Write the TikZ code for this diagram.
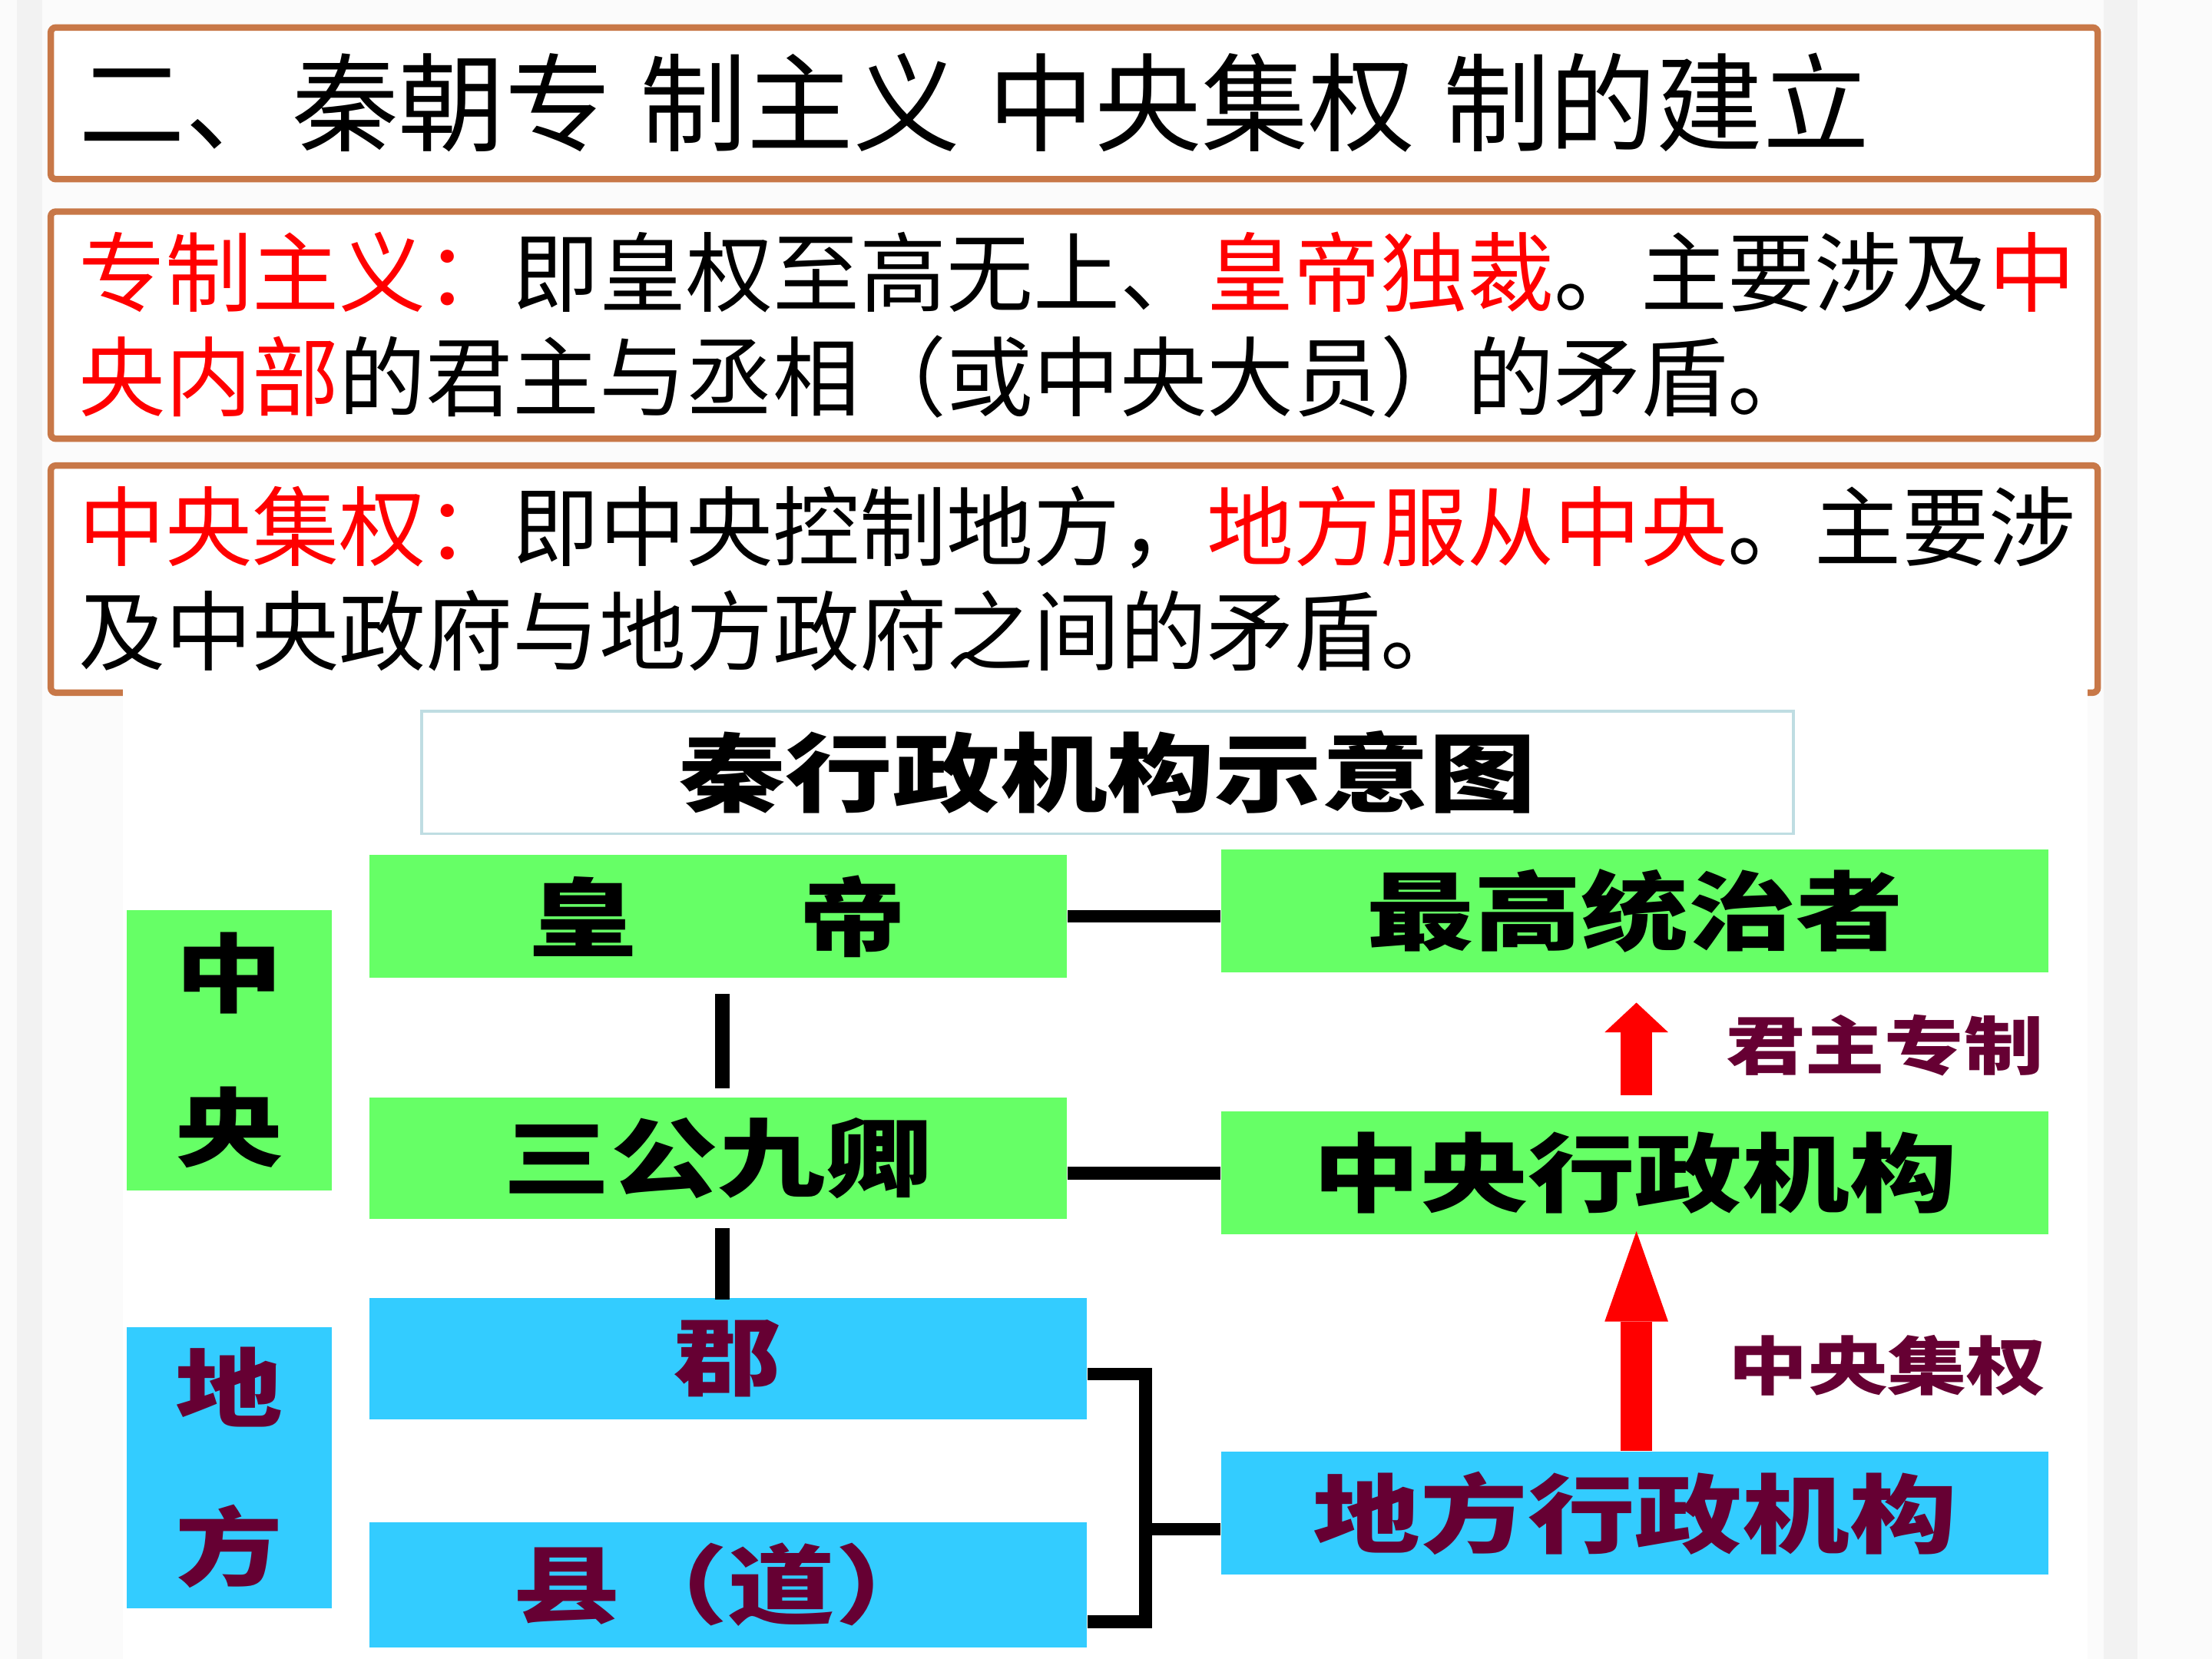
\documentclass[tikz,border=0pt]{standalone}
\usepackage{fontspec}
\usepackage{tikz}
\usetikzlibrary{arrows.meta}
\usetikzlibrary{calc}

\setmainfont{Noto Sans CJK SC}
\newfontfamily\chartfont{Noto Sans CJK SC}[FakeStretch=1.25]

\definecolor{framebrown}{HTML}{C87848}
\definecolor{titleframe}{HTML}{BFDDE2}
\definecolor{boxgreen}{HTML}{66FF66}
\definecolor{boxblue}{HTML}{33CCFF}
\definecolor{darkmaroon}{HTML}{660033}
\definecolor{keyred}{HTML}{FF0000}

\newcommand{\hl}[1]{\textcolor{keyred}{#1}}

\tikzset{
  textframe/.style={draw=framebrown, fill=white, line width=1.3pt, rounded corners=1pt},
  bodyline/.style={anchor=west, inner sep=0, font=\fontsize{17.5}{21}\selectfont},
  chartbox/.style={inner sep=0, font=\chartfont\bfseries\fontsize{17.3}{20}\selectfont},
  greenbox/.style={chartbox, fill=boxgreen},
  bluebox/.style={chartbox, fill=boxblue, text=darkmaroon},
  sidelabel/.style={inner sep=0, text=darkmaroon, font=\chartfont\bfseries\fontsize{12.8}{15}\selectfont},
  link/.style={draw=black, line width=0.09cm},
  uparrow/.style={draw=keyred, line width=0.22cm, -{Triangle[width=0.45cm,length=#1,line width=0pt]}}
}

\begin{document}
\begin{tikzpicture}[x=0.01cm,y=-0.01cm]
\useasboundingbox (0,0) rectangle (1568,1176);
\fill[gray!3] (0,0) rectangle (1568,1176);
\fill[gray!10] (12,0) rectangle (30,1176);
\fill[gray!10] (1491,0) rectangle (1515,1176);

% heading and the two definitions
\draw[textframe] (36,19.5) rectangle (1487,127);
\node[anchor=west, inner sep=0, font=\fontsize{21.5}{26}\selectfont] (heading) at (55,73)
  {二、秦朝专\hspace{0.2cm}制主义\hspace{0.2cm}中央集权\hspace{0.2cm}制的建立};

\draw[textframe] (36,150) rectangle (1487,311);
\node[bodyline] (autoline1) at (55,193) {\hl{专制主义：}即皇权至高无上、\hl{皇帝独裁}。主要涉及\hl{中}};
\node[bodyline] (autoline2) at (55,267) {\hl{央内部}的君主与丞相（或中央大员）的矛盾。};

\draw[textframe] (36,330) rectangle (1487,491);
\node[bodyline] (centline1) at (55,374) {\hl{中央集权：}即中央控制地方，\hl{地方服从中央}。主要涉};
\node[bodyline] (centline2) at (55,447) {及中央政府与地方政府之间的矛盾。};

% chart
\fill[white] (87,487) rectangle (1480,1176);
\node[chartbox, draw=titleframe, line width=0.6pt, minimum width=9.72cm, minimum height=0.87cm] (charttitle) at (785,547.5) {秦行政机构示意图};

\node[greenbox, align=center, minimum width=1.45cm, minimum height=1.99cm, font=\chartfont\bfseries\fontsize{17.3}{31}\selectfont] (centre) at (162.5,744.5) {中\\央};
\node[bluebox, align=center, minimum width=1.45cm, minimum height=1.99cm, font=\chartfont\bfseries\fontsize{17.3}{32}\selectfont] (province) at (162.5,1040.5) {地\\方};

\node[greenbox, minimum width=4.94cm, minimum height=0.87cm] (emperor) at (509,649.5) {皇\hspace{1.15cm}帝};
\node[greenbox, minimum width=4.94cm, minimum height=0.86cm] (ministers) at (509,821) {三公九卿};
\node[bluebox, minimum width=5.08cm, minimum height=0.86cm] (jun) at (516,963) {郡};
\node[bluebox, minimum width=5.08cm, minimum height=0.89cm] (xian) at (516,1123.5) {县（道）};

\node[greenbox, minimum width=5.86cm, minimum height=0.87cm] (ruler) at (1159,645.5) {最高统治者};
\node[greenbox, minimum width=5.86cm, minimum height=0.87cm] (central) at (1159,831.5) {中央行政机构};
\node[bluebox, minimum width=5.86cm, minimum height=0.87cm] (local) at (1159,1072.5) {地方行政机构};

\node[sidelabel] (autocracy) at (1336,741) {君主专制};
\node[sidelabel] (centralism) at (1338,968) {中央集权};

\draw[link] (emperor.east) -- (emperor.east -| ruler.west);
\draw[link] (ministers.east |- central.west) -- (central.west);
\draw[link, line width=0.1cm] ([xshift=0.03cm,yshift=-0.11cm]emperor.south) -- ([xshift=0.03cm,yshift=0.06cm]ministers.north);
\draw[link, line width=0.1cm] ([xshift=0.03cm,yshift=-0.06cm]ministers.south) -- ([xshift=0.03cm,yshift=-0.02cm]ministers.south |- jun.north);

\coordinate (fork) at (812,1084);
\draw[link] ([yshift=-0.11cm]jun.east) -| (fork) |- ([yshift=-0.26cm]xian.east);
\draw[link] (fork) -- (fork -| local.west);

\draw[uparrow=0.21cm] ([xshift=0.01cm,yshift=0.11cm]central.north) -- ([xshift=0.01cm,yshift=-0.21cm]ruler.south);
\draw[uparrow=0.64cm] ([xshift=0.01cm]local.north) -- ([xshift=0.01cm,yshift=0.03cm]central.south);

\end{tikzpicture}
\end{document}
